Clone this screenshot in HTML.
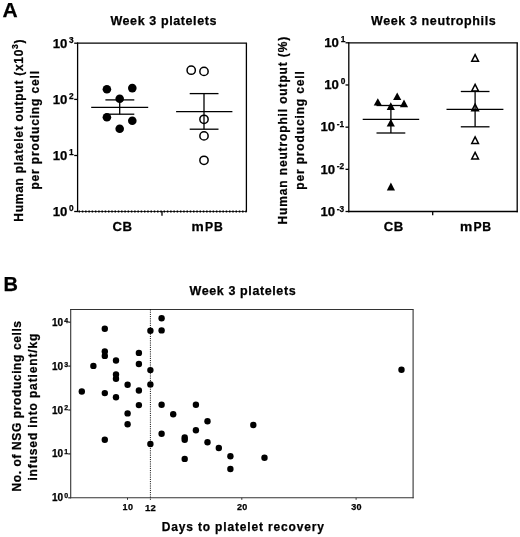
<!DOCTYPE html>
<html><head><meta charset="utf-8"><style>
html,body{margin:0;padding:0;background:#fff;}
svg{display:block;will-change:transform;}
text{font-family:"Liberation Sans",sans-serif;font-weight:bold;fill:#000;stroke:#000;stroke-width:0.25px;}
</style></head><body>
<svg width="520" height="537" viewBox="0 0 520 537">
<rect width="520" height="537" fill="#fff"/>
<text x="2.4" y="16.9" font-size="21.0" text-anchor="start" letter-spacing="0" >A</text>
<text x="3.6" y="291.1" font-size="20.0" text-anchor="start" letter-spacing="0" >B</text>
<line x1="77.6" y1="42.550000000000004" x2="77.6" y2="212.1" stroke="#000" stroke-width="1.3" />
<line x1="76.94999999999999" y1="43.2" x2="247.05" y2="43.2" stroke="#000" stroke-width="1.3" />
<line x1="246.4" y1="43.2" x2="246.4" y2="212.1" stroke="#000" stroke-width="1.3" />
<line x1="77.6" y1="211.5" x2="246.4" y2="211.5" stroke="#333" stroke-width="1.1" />
<line x1="77.6" y1="211.5" x2="246.4" y2="211.5" stroke="#000" stroke-width="1.8" stroke-dasharray="1.5 1.77" stroke-dashoffset="2.31"/>
<line x1="74.19999999999999" y1="43.2" x2="77.6" y2="43.2" stroke="#000" stroke-width="1.3" />
<text x="67.3" y="47.6" font-size="13.2" text-anchor="end" letter-spacing="0" >10</text>
<text x="69.0" y="42.5" font-size="8.3" text-anchor="start" letter-spacing="0" >3</text>
<line x1="74.19999999999999" y1="99.4" x2="77.6" y2="99.4" stroke="#000" stroke-width="1.3" />
<text x="67.3" y="103.80000000000001" font-size="13.2" text-anchor="end" letter-spacing="0" >10</text>
<text x="69.0" y="98.7" font-size="8.3" text-anchor="start" letter-spacing="0" >2</text>
<line x1="74.19999999999999" y1="155.5" x2="77.6" y2="155.5" stroke="#000" stroke-width="1.3" />
<text x="67.3" y="159.9" font-size="13.2" text-anchor="end" letter-spacing="0" >10</text>
<text x="69.0" y="154.8" font-size="8.3" text-anchor="start" letter-spacing="0" >1</text>
<line x1="74.19999999999999" y1="211.5" x2="77.6" y2="211.5" stroke="#000" stroke-width="1.3" />
<text x="67.3" y="215.9" font-size="13.2" text-anchor="end" letter-spacing="0" >10</text>
<text x="69.0" y="210.8" font-size="8.3" text-anchor="start" letter-spacing="0" >0</text>
<line x1="162" y1="211.5" x2="162" y2="215.7" stroke="#000" stroke-width="1.3" />
<text transform="translate(122.6,231.2) scale(1.08,1)" font-size="12.2" text-anchor="middle" letter-spacing="0.5">CB</text>
<text transform="translate(191.6,231.2) scale(1.13,1)" font-size="12.2">m</text>
<text x="205.0" y="231.2" font-size="12.2" text-anchor="start" letter-spacing="0.8" >PB</text>
<text x="163.7" y="24.65" font-size="12.5" text-anchor="middle" letter-spacing="0.6" >Week 3 platelets</text>
<g transform="translate(22.8,130.2) rotate(-90)"><text x="0" y="0" font-size="12" text-anchor="middle" letter-spacing="0.72">Human platelet output (x10<tspan font-size="8.6" dy="-5.2">3</tspan><tspan dy="5.2">)</tspan></text></g>
<g transform="translate(39.2,129.85) rotate(-90)"><text x="0" y="0" font-size="12" text-anchor="middle" letter-spacing="0.86">per producing cell</text></g>
<circle cx="106.9" cy="89.2" r="4.3" fill="#000" stroke="none" stroke-width="0"/>
<circle cx="132.3" cy="88.1" r="4.3" fill="#000" stroke="none" stroke-width="0"/>
<circle cx="119.7" cy="98.8" r="4.3" fill="#000" stroke="none" stroke-width="0"/>
<circle cx="106.9" cy="117.3" r="4.3" fill="#000" stroke="none" stroke-width="0"/>
<circle cx="132.3" cy="120.8" r="4.3" fill="#000" stroke="none" stroke-width="0"/>
<circle cx="119.7" cy="128.8" r="4.3" fill="#000" stroke="none" stroke-width="0"/>
<line x1="91.2" y1="107.3" x2="148.2" y2="107.3" stroke="#000" stroke-width="1.3" />
<line x1="105.4" y1="99.9" x2="134.3" y2="99.9" stroke="#000" stroke-width="1.3" />
<line x1="105.4" y1="114.2" x2="134.3" y2="114.2" stroke="#000" stroke-width="1.3" />
<line x1="119.7" y1="99.9" x2="119.7" y2="114.2" stroke="#000" stroke-width="1.3" />
<circle cx="191.2" cy="70.2" r="4.15" fill="none" stroke="#000" stroke-width="1.5"/>
<circle cx="204" cy="71.4" r="4.15" fill="none" stroke="#000" stroke-width="1.5"/>
<circle cx="204" cy="119.3" r="4.15" fill="none" stroke="#000" stroke-width="1.5"/>
<circle cx="204" cy="135.9" r="4.15" fill="none" stroke="#000" stroke-width="1.5"/>
<circle cx="204" cy="160.3" r="4.15" fill="none" stroke="#000" stroke-width="1.5"/>
<line x1="176.1" y1="111.7" x2="232.4" y2="111.7" stroke="#000" stroke-width="1.3" />
<line x1="189.7" y1="93.6" x2="218.5" y2="93.6" stroke="#000" stroke-width="1.3" />
<line x1="189.7" y1="129.2" x2="218.5" y2="129.2" stroke="#000" stroke-width="1.3" />
<line x1="204" y1="93.6" x2="204" y2="129.2" stroke="#000" stroke-width="1.3" />
<line x1="348.8" y1="42.15" x2="348.8" y2="212.15" stroke="#000" stroke-width="1.3" />
<line x1="348.15000000000003" y1="42.8" x2="517.85" y2="42.8" stroke="#000" stroke-width="1.3" />
<line x1="517.2" y1="42.8" x2="517.2" y2="212.15" stroke="#000" stroke-width="1.3" />
<line x1="348.15000000000003" y1="211.5" x2="517.85" y2="211.5" stroke="#000" stroke-width="1.3" />
<line x1="345.5" y1="42.8" x2="348.8" y2="42.8" stroke="#000" stroke-width="1.3" />
<text x="338.9" y="47.0" font-size="13.2" text-anchor="end" letter-spacing="0" >10</text>
<text x="340.8" y="42.099999999999994" font-size="8.3" text-anchor="start" letter-spacing="0" >1</text>
<line x1="345.5" y1="84.975" x2="348.8" y2="84.975" stroke="#000" stroke-width="1.3" />
<text x="338.9" y="89.175" font-size="13.2" text-anchor="end" letter-spacing="0" >10</text>
<text x="340.8" y="84.27499999999999" font-size="8.3" text-anchor="start" letter-spacing="0" >0</text>
<line x1="345.5" y1="127.14999999999999" x2="348.8" y2="127.14999999999999" stroke="#000" stroke-width="1.3" />
<text x="335.2" y="131.35" font-size="13.2" text-anchor="end" letter-spacing="0" >10</text>
<text x="336.8" y="127.14999999999999" font-size="8.3" text-anchor="start" letter-spacing="0" >-1</text>
<line x1="345.5" y1="169.325" x2="348.8" y2="169.325" stroke="#000" stroke-width="1.3" />
<text x="335.2" y="173.52499999999998" font-size="13.2" text-anchor="end" letter-spacing="0" >10</text>
<text x="336.8" y="169.325" font-size="8.3" text-anchor="start" letter-spacing="0" >-2</text>
<line x1="345.5" y1="211.5" x2="348.8" y2="211.5" stroke="#000" stroke-width="1.3" />
<text x="335.2" y="215.7" font-size="13.2" text-anchor="end" letter-spacing="0" >10</text>
<text x="336.8" y="211.5" font-size="8.3" text-anchor="start" letter-spacing="0" >-3</text>
<line x1="432.7" y1="211.5" x2="432.7" y2="215.3" stroke="#000" stroke-width="1.3" />
<text transform="translate(393.8,231.2) scale(1.08,1)" font-size="12.2" text-anchor="middle" letter-spacing="0.5">CB</text>
<text transform="translate(460.0,231.2) scale(1.13,1)" font-size="12.2">m</text>
<text x="473.4" y="231.2" font-size="12.2" text-anchor="start" letter-spacing="0.8" >PB</text>
<text x="433.7" y="24.65" font-size="12.5" text-anchor="middle" letter-spacing="0.6" >Week 3 neutrophils</text>
<g transform="translate(287.2,130.2) rotate(-90)"><text x="0" y="0" font-size="12" text-anchor="middle" letter-spacing="0.86">Human neutrophil output (%)</text></g>
<g transform="translate(304.4,130.05) rotate(-90)"><text x="0" y="0" font-size="12" text-anchor="middle" letter-spacing="0.86">per producing cell</text></g>
<path d="M377.8 98.2L381.90000000000003 105.5L373.7 105.5Z" fill="#000" stroke="none" stroke-width="0" stroke-linejoin="miter"/>
<path d="M397.2 92.4L401.3 100.1L393.09999999999997 100.1Z" fill="#000" stroke="none" stroke-width="0" stroke-linejoin="miter"/>
<path d="M404 99.5L408.1 107.2L399.9 107.2Z" fill="#000" stroke="none" stroke-width="0" stroke-linejoin="miter"/>
<path d="M390.8 102.2L394.90000000000003 109.9L386.7 109.9Z" fill="#000" stroke="none" stroke-width="0" stroke-linejoin="miter"/>
<path d="M390.8 118.9L394.90000000000003 126.5L386.7 126.5Z" fill="#000" stroke="none" stroke-width="0" stroke-linejoin="miter"/>
<path d="M390.9 182.5L395.0 190.5L386.79999999999995 190.5Z" fill="#000" stroke="none" stroke-width="0" stroke-linejoin="miter"/>
<line x1="362.7" y1="119.3" x2="419.2" y2="119.3" stroke="#000" stroke-width="1.3" />
<line x1="376.5" y1="105.5" x2="405.3" y2="105.5" stroke="#000" stroke-width="1.3" />
<line x1="376.5" y1="133" x2="405.3" y2="133" stroke="#000" stroke-width="1.3" />
<line x1="390.9" y1="105.5" x2="390.9" y2="133" stroke="#000" stroke-width="1.3" />
<path d="M475.1 54.550000000000004L478.45000000000005 61.199999999999996L471.75 61.199999999999996Z" fill="none" stroke="#000" stroke-width="1.5" stroke-linejoin="miter"/>
<path d="M475.1 84.30000000000001L478.45000000000005 90.95L471.75 90.95Z" fill="none" stroke="#000" stroke-width="1.5" stroke-linejoin="miter"/>
<path d="M475.1 104.15L478.45000000000005 110.8L471.75 110.8Z" fill="none" stroke="#000" stroke-width="1.5" stroke-linejoin="miter"/>
<path d="M475.1 136.79999999999998L478.45000000000005 143.45000000000002L471.75 143.45000000000002Z" fill="none" stroke="#000" stroke-width="1.5" stroke-linejoin="miter"/>
<path d="M475.1 152.29999999999998L478.45000000000005 158.95000000000002L471.75 158.95000000000002Z" fill="none" stroke="#000" stroke-width="1.5" stroke-linejoin="miter"/>
<line x1="446.5" y1="109.3" x2="503.4" y2="109.3" stroke="#000" stroke-width="1.3" />
<line x1="460.8" y1="91.5" x2="489.5" y2="91.5" stroke="#000" stroke-width="1.3" />
<line x1="460.8" y1="126.8" x2="489.5" y2="126.8" stroke="#000" stroke-width="1.3" />
<line x1="475.1" y1="91.5" x2="475.1" y2="126.8" stroke="#000" stroke-width="1.3" />
<line x1="70.7" y1="309.0" x2="70.7" y2="498.3" stroke="#333" stroke-width="1.1" />
<line x1="70.2" y1="309.5" x2="413.6" y2="309.5" stroke="#333" stroke-width="1.1" />
<line x1="413.1" y1="309.5" x2="413.1" y2="498.3" stroke="#333" stroke-width="1.1" />
<line x1="70.2" y1="497.8" x2="413.6" y2="497.8" stroke="#333" stroke-width="1.1" />
<line x1="68.2" y1="322.2" x2="70.7" y2="322.2" stroke="#333" stroke-width="1.3" />
<text x="63.1" y="325.7" font-size="10" text-anchor="end" letter-spacing="0" >10</text>
<text x="64.2" y="322.59999999999997" font-size="7.0" text-anchor="start" letter-spacing="0" >4</text>
<line x1="68.2" y1="366.09999999999997" x2="70.7" y2="366.09999999999997" stroke="#333" stroke-width="1.3" />
<text x="63.1" y="369.59999999999997" font-size="10" text-anchor="end" letter-spacing="0" >10</text>
<text x="64.2" y="366.49999999999994" font-size="7.0" text-anchor="start" letter-spacing="0" >3</text>
<line x1="68.2" y1="410.0" x2="70.7" y2="410.0" stroke="#333" stroke-width="1.3" />
<text x="63.1" y="413.5" font-size="10" text-anchor="end" letter-spacing="0" >10</text>
<text x="64.2" y="410.4" font-size="7.0" text-anchor="start" letter-spacing="0" >2</text>
<line x1="68.2" y1="453.9" x2="70.7" y2="453.9" stroke="#333" stroke-width="1.3" />
<text x="63.1" y="457.4" font-size="10" text-anchor="end" letter-spacing="0" >10</text>
<text x="64.2" y="454.29999999999995" font-size="7.0" text-anchor="start" letter-spacing="0" >1</text>
<line x1="68.2" y1="497.79999999999995" x2="70.7" y2="497.79999999999995" stroke="#333" stroke-width="1.3" />
<text x="63.1" y="501.29999999999995" font-size="10" text-anchor="end" letter-spacing="0" >10</text>
<text x="64.2" y="498.19999999999993" font-size="7.0" text-anchor="start" letter-spacing="0" >0</text>
<line x1="127.5" y1="497.8" x2="127.5" y2="499.8" stroke="#333" stroke-width="1.0" />
<text x="128.0" y="510" font-size="9" text-anchor="middle" letter-spacing="0.4" >10</text>
<line x1="241.8" y1="497.8" x2="241.8" y2="499.8" stroke="#333" stroke-width="1.0" />
<text x="242.3" y="510" font-size="9" text-anchor="middle" letter-spacing="0.4" >20</text>
<line x1="356.1" y1="497.8" x2="356.1" y2="499.8" stroke="#333" stroke-width="1.0" />
<text x="356.6" y="510" font-size="9" text-anchor="middle" letter-spacing="0.4" >30</text>
<text x="150.6" y="510.6" font-size="9.5" text-anchor="middle" letter-spacing="0.4" >12</text>
<line x1="150.4" y1="309.5" x2="150.4" y2="500.3" stroke="#000" stroke-width="1.0" stroke-dasharray="1 1.2"/>
<text x="243.2" y="530.7" font-size="12" text-anchor="middle" letter-spacing="0.84" >Days to platelet recovery</text>
<text x="242.9" y="294.5" font-size="12.5" text-anchor="middle" letter-spacing="0.6" >Week 3 platelets</text>
<g transform="translate(20.5,405.95) rotate(-90)"><text x="0" y="0" font-size="12" text-anchor="middle" letter-spacing="0.61">No. of NSG producing cells</text></g>
<g transform="translate(36.6,406.7) rotate(-90)"><text x="0" y="0" font-size="12" text-anchor="middle" letter-spacing="0.86">infused into patient/kg</text></g>
<circle cx="81.8" cy="391.5" r="3.2" fill="#000" stroke="none" stroke-width="0"/>
<circle cx="93.4" cy="365.9" r="3.2" fill="#000" stroke="none" stroke-width="0"/>
<circle cx="104.8" cy="328.7" r="3.2" fill="#000" stroke="none" stroke-width="0"/>
<circle cx="104.8" cy="351.5" r="3.2" fill="#000" stroke="none" stroke-width="0"/>
<circle cx="104.8" cy="355.9" r="3.2" fill="#000" stroke="none" stroke-width="0"/>
<circle cx="104.8" cy="393.1" r="3.2" fill="#000" stroke="none" stroke-width="0"/>
<circle cx="104.8" cy="439.8" r="3.2" fill="#000" stroke="none" stroke-width="0"/>
<circle cx="116" cy="360.5" r="3.2" fill="#000" stroke="none" stroke-width="0"/>
<circle cx="116" cy="374.4" r="3.2" fill="#000" stroke="none" stroke-width="0"/>
<circle cx="116" cy="378.7" r="3.2" fill="#000" stroke="none" stroke-width="0"/>
<circle cx="116" cy="397.2" r="3.2" fill="#000" stroke="none" stroke-width="0"/>
<circle cx="127.6" cy="384.8" r="3.2" fill="#000" stroke="none" stroke-width="0"/>
<circle cx="127.6" cy="413.4" r="3.2" fill="#000" stroke="none" stroke-width="0"/>
<circle cx="127.6" cy="424.3" r="3.2" fill="#000" stroke="none" stroke-width="0"/>
<circle cx="138.9" cy="352.9" r="3.2" fill="#000" stroke="none" stroke-width="0"/>
<circle cx="138.9" cy="364" r="3.2" fill="#000" stroke="none" stroke-width="0"/>
<circle cx="138.9" cy="390.5" r="3.2" fill="#000" stroke="none" stroke-width="0"/>
<circle cx="138.9" cy="405.1" r="3.2" fill="#000" stroke="none" stroke-width="0"/>
<circle cx="150.4" cy="330.8" r="3.2" fill="#000" stroke="none" stroke-width="0"/>
<circle cx="150.4" cy="370.1" r="3.2" fill="#000" stroke="none" stroke-width="0"/>
<circle cx="150.4" cy="384.4" r="3.2" fill="#000" stroke="none" stroke-width="0"/>
<circle cx="150.4" cy="444" r="3.2" fill="#000" stroke="none" stroke-width="0"/>
<circle cx="161.6" cy="318.3" r="3.2" fill="#000" stroke="none" stroke-width="0"/>
<circle cx="161.6" cy="330.4" r="3.2" fill="#000" stroke="none" stroke-width="0"/>
<circle cx="161.6" cy="404.7" r="3.2" fill="#000" stroke="none" stroke-width="0"/>
<circle cx="161.6" cy="433.8" r="3.2" fill="#000" stroke="none" stroke-width="0"/>
<circle cx="173.2" cy="414.2" r="3.2" fill="#000" stroke="none" stroke-width="0"/>
<circle cx="184.7" cy="437.4" r="3.2" fill="#000" stroke="none" stroke-width="0"/>
<circle cx="184.7" cy="439.7" r="3.2" fill="#000" stroke="none" stroke-width="0"/>
<circle cx="184.7" cy="458.9" r="3.2" fill="#000" stroke="none" stroke-width="0"/>
<circle cx="195.9" cy="404.7" r="3.2" fill="#000" stroke="none" stroke-width="0"/>
<circle cx="195.9" cy="430.2" r="3.2" fill="#000" stroke="none" stroke-width="0"/>
<circle cx="207.5" cy="421.2" r="3.2" fill="#000" stroke="none" stroke-width="0"/>
<circle cx="207.5" cy="442.3" r="3.2" fill="#000" stroke="none" stroke-width="0"/>
<circle cx="218.8" cy="448" r="3.2" fill="#000" stroke="none" stroke-width="0"/>
<circle cx="230.4" cy="456.3" r="3.2" fill="#000" stroke="none" stroke-width="0"/>
<circle cx="230.4" cy="469" r="3.2" fill="#000" stroke="none" stroke-width="0"/>
<circle cx="253.3" cy="425" r="3.2" fill="#000" stroke="none" stroke-width="0"/>
<circle cx="264.5" cy="457.8" r="3.2" fill="#000" stroke="none" stroke-width="0"/>
<circle cx="401.5" cy="369.7" r="3.2" fill="#000" stroke="none" stroke-width="0"/>
</svg>
</body></html>
